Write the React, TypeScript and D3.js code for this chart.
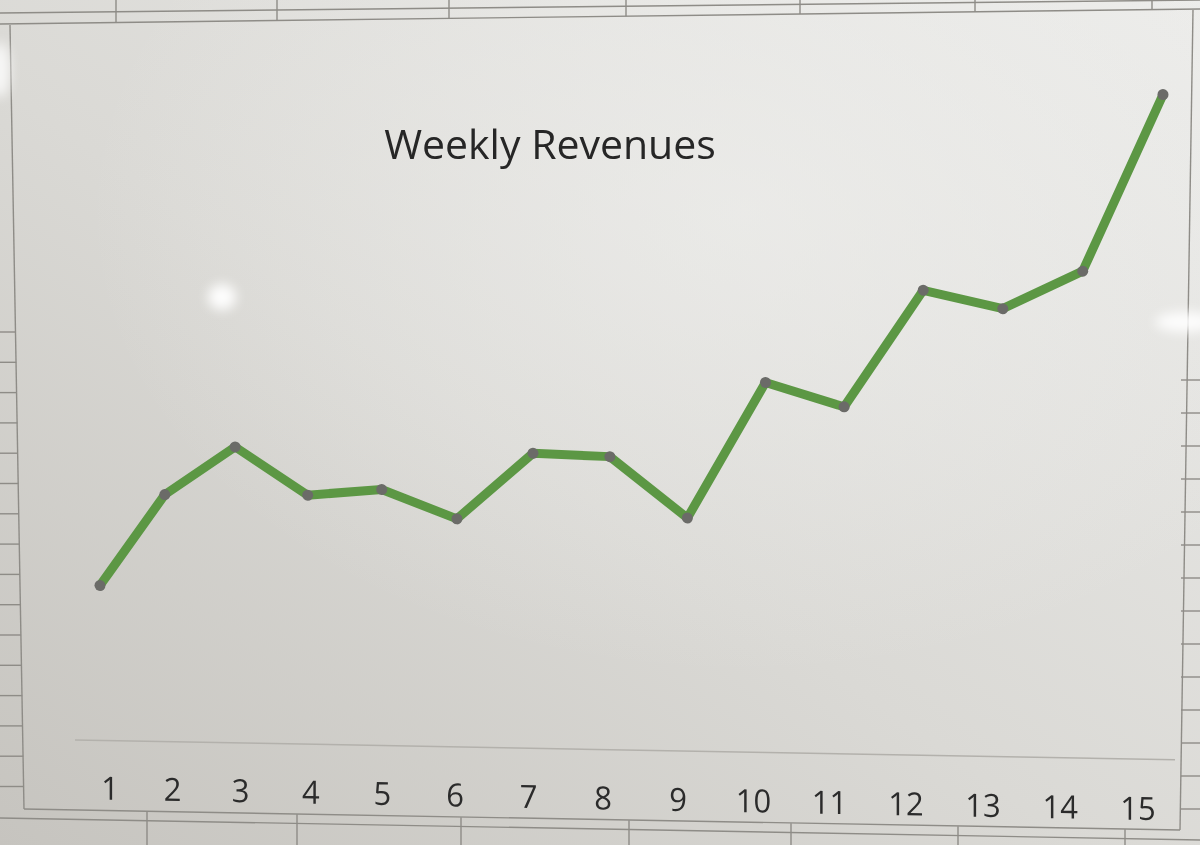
import React from "react";
import * as d3 from "d3";

// ---- data ----
const weeks: number[] = [1, 2, 3, 4, 5, 6, 7, 8, 9, 10, 11, 12, 13, 14, 15];
const revenues: number[] = [155, 247, 296, 249, 256, 228, 295, 293, 233, 370, 347, 465, 448, 487, 665];
const tickLabels: string[] = weeks.map(String);
const chartTitle = "Weekly Revenues";

const W = 1200;
const H = 845;

export default function App() {
  // horizontal positions (slight perspective of the photo -> mild power scale)
  const x = d3.scalePow().exponent(1.06).domain([0, weeks.length - 1]).range([100, 1163]);
  const y = d3.scaleLinear().domain([0, 700]).range([0, -700]);

  const pts: [number, number][] = revenues.map((v, i) => [x(i), y(v)]);
  const lineGen = d3.line<[number, number]>().x((d) => d[0]).y((d) => d[1]);

  // photographed spreadsheet decoration
  const topCols = [116, 277, 449, 626, 800, 975, 1152];
  const bottomCols = [147, 297, 461, 629, 791, 958, 1125];
  const leftRows = d3.range(332, 790, 30.3);
  const rightRows = d3.range(380, 815, 33);

  return (
    <svg
      width={W}
      height={H}
      style={{ position: "absolute", left: 0, top: 0, display: "block" }}
      xmlns="http://www.w3.org/2000/svg"
    >
      <defs>
        <linearGradient id="bg" x1="0" y1="1" x2="1" y2="0">
          <stop offset="0" stopColor="#c6c4bf" />
          <stop offset="0.45" stopColor="#dad9d5" />
          <stop offset="1" stopColor="#ececea" />
        </linearGradient>
        <radialGradient id="light" cx="0.62" cy="0.25" r="0.55">
          <stop offset="0" stopColor="#f0f0ee" stopOpacity="0.6" />
          <stop offset="1" stopColor="#f0f0ee" stopOpacity="0" />
        </radialGradient>
        <filter id="blur" x="-1" y="-1" width="3" height="3">
          <feGaussianBlur stdDeviation="6" />
        </filter>
      </defs>

      {/* background */}
      <rect x={0} y={0} width={W} height={H} fill="url(#bg)" />
      <rect x={0} y={0} width={W} height={H} fill="url(#light)" />

      {/* spreadsheet grid: top */}
      <g stroke="#8e8c87" strokeWidth={1.4} fill="none">
        <line x1={0} y1={13} x2={W} y2={0} />
        <line x1={0} y1={24} x2={W} y2={9} />
        {topCols.map((c, i) => (
          <line key={"tc" + i} x1={c} y1={0} x2={c} y2={24 - (c / W) * 15} />
        ))}
        {/* chart borders */}
        <line x1={10} y1={25} x2={24} y2={809} />
        <line x1={1193} y1={10} x2={1180} y2={830} />
        <line x1={24} y1={809} x2={1180} y2={830} />
        {/* bottom grid */}
        <line x1={0} y1={818} x2={W} y2={840} />
        {bottomCols.map((c, i) => (
          <line key={"bc" + i} x1={c} y1={809 + c * 0.018} x2={c} y2={H} />
        ))}
        {leftRows.map((r, i) => (
          <line key={"lr" + i} x1={0} y1={r} x2={10 + r * 0.0175} y2={r} />
        ))}
        {rightRows.map((r, i) => (
          <line key={"rr" + i} x1={1181} y1={r} x2={W} y2={r} />
        ))}
      </g>

      {/* glare spots */}
      <g filter="url(#blur)" fill="#ffffff">
        <ellipse cx={222} cy={297} rx={14} ry={13} opacity={0.95} />
        <ellipse cx={1185} cy={322} rx={30} ry={10} opacity={0.9} />
        <ellipse cx={0} cy={70} rx={10} ry={28} opacity={0.8} />
      </g>

      {/* title */}
      <text
        x={550}
        y={159}
        textAnchor="middle"
        fontFamily="'Open Sans', 'Noto Sans', sans-serif"
        fontSize={41}
        fill="#262626"
      >
        {chartTitle}
      </text>

      {/* plot plane (tilted like the photo) */}
      <g transform="matrix(1,0.018,0,1,0,738.65)">
        <line x1={75} y1={0} x2={1175} y2={0} stroke="#b3b1ac" strokeWidth={1.5} />
        <path
          d={lineGen(pts) || ""}
          fill="none"
          stroke="#5c9744"
          strokeWidth={9}
          strokeLinejoin="round"
          strokeLinecap="round"
        />
        {pts.map((p, i) => (
          <circle key={"m" + i} cx={p[0]} cy={p[1]} r={5.5} fill="#6b6b68" />
        ))}
      </g>

      {/* category axis labels */}
      <g transform="matrix(0.967,0.0189,0,1,13.3,785.1)">
        {tickLabels.map((t, i) => (
          <text
            key={"t" + i}
            x={x(i)}
            y={0}
            textAnchor="middle"
            dominantBaseline="central"
            fontFamily="'Open Sans', 'Noto Sans', sans-serif"
            fontSize={32}
            fill="#2b2b2b"
          >
            {t}
          </text>
        ))}
      </g>
    </svg>
  );
}
